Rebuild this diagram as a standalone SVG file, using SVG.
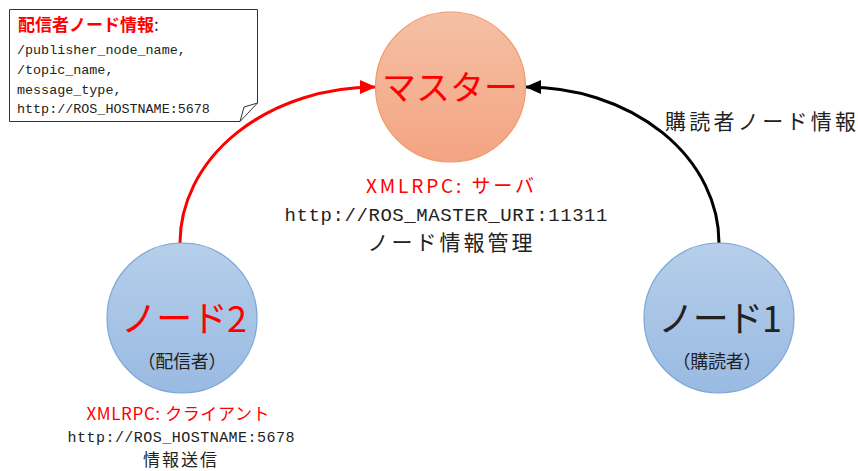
<svg xmlns="http://www.w3.org/2000/svg" width="858" height="471" viewBox="0 0 858 471">
<defs>
<linearGradient id="gm" x1="0" y1="0" x2="0" y2="1"><stop offset="0" stop-color="#F5C0A5"/><stop offset="1" stop-color="#F3A482"/></linearGradient>
<linearGradient id="gn" x1="0" y1="0" x2="0" y2="1"><stop offset="0" stop-color="#B6CFEA"/><stop offset="1" stop-color="#99BAE2"/></linearGradient>
<marker id="ar" markerWidth="16" markerHeight="14" refX="15" refY="7" orient="auto" markerUnits="userSpaceOnUse"><path d="M0,0 L16,7 L0,14 Z" fill="#FF0000"/></marker>
<marker id="ab" markerWidth="16" markerHeight="14" refX="15" refY="7" orient="auto" markerUnits="userSpaceOnUse"><path d="M0,0 L16,7 L0,14 Z" fill="#000"/></marker>
<style>
.jp{font-family:"Noto Sans CJK JP","Noto Sans",sans-serif;}
.mono{font-family:"Liberation Mono","Noto Sans CJK JP",monospace;}
.red{fill:#FF0000;}
.blk{fill:#222;}
</style>
</defs>
<rect width="858" height="471" fill="#fff"/>
<g id="connectors" fill="none" stroke-width="3">
<path d="M180,243 A195,156 0 0 1 375,87" stroke="#FF0000" marker-end="url(#ar)"/>
<path d="M719,243 A193,156 0 0 0 526,87" stroke="#000" marker-end="url(#ab)"/>
</g>
<g id="note">
<path d="M9.5,9.5 H257.5 V103 L240,121.5 H9.5 Z" fill="#fff" stroke="#333" stroke-width="1"/>
<path d="M257.5,103 L244,107 L240,121.5" fill="none" stroke="#333" stroke-width="1"/>
<text x="18" y="31" font-size="17" font-weight="bold" class="jp red">配信者ノード情報<tspan class="blk" font-weight="normal">:</tspan></text>
<text x="17" y="54" font-size="13.4" class="mono blk">/publisher_node_name,</text>
<text x="17" y="74" font-size="13.4" class="mono blk">/topic_name,</text>
<text x="17" y="94" font-size="13.4" class="mono blk">message_type,</text>
<text x="17" y="113" font-size="13.4" class="mono blk">http://ROS_HOSTNAME:5678</text>
</g>
<g id="master">
<circle cx="450.5" cy="87" r="75" fill="url(#gm)" stroke="#F19A6A" stroke-width="1.2"/>
<text x="450" y="100" font-size="34" text-anchor="middle" class="jp red" textLength="136">マスター</text>
<text x="450" y="193" font-size="19" text-anchor="middle" class="jp red" textLength="168">XMLRPC: サーバ</text>
<text x="446" y="221" font-size="19" text-anchor="middle" class="mono blk" textLength="323">http://ROS_MASTER_URI:11311</text>
<text x="450" y="250" font-size="21" text-anchor="middle" class="jp blk" textLength="165">ノード情報管理</text>
</g>
<g id="node2">
<circle cx="182" cy="318" r="75" fill="url(#gn)" stroke="#7EA6D6" stroke-width="1.2"/>
<text x="184" y="332" font-size="36" text-anchor="middle" class="jp red" textLength="126">ノード2</text>
<text x="182" y="368" font-size="18" text-anchor="middle" class="jp blk" textLength="89">（配信者）</text>
<text x="178" y="420" font-size="17" text-anchor="middle" class="jp red" textLength="183">XMLRPC: クライアント</text>
<text x="181" y="442" font-size="15" text-anchor="middle" class="mono blk" textLength="227">http://ROS_HOSTNAME:5678</text>
<text x="180" y="466" font-size="17" text-anchor="middle" class="jp blk" textLength="74">情報送信</text>
</g>
<g id="node1">
<circle cx="719" cy="318" r="75" fill="url(#gn)" stroke="#7EA6D6" stroke-width="1.2"/>
<text x="720" y="332" font-size="36" text-anchor="middle" class="jp blk" textLength="124">ノード1</text>
<text x="717" y="368" font-size="18" text-anchor="middle" class="jp blk" textLength="89">（購読者）</text>
</g>
<g id="label">
<text x="665" y="129" font-size="21" class="jp blk" textLength="191">購読者ノード情報</text>
</g>
</svg>
